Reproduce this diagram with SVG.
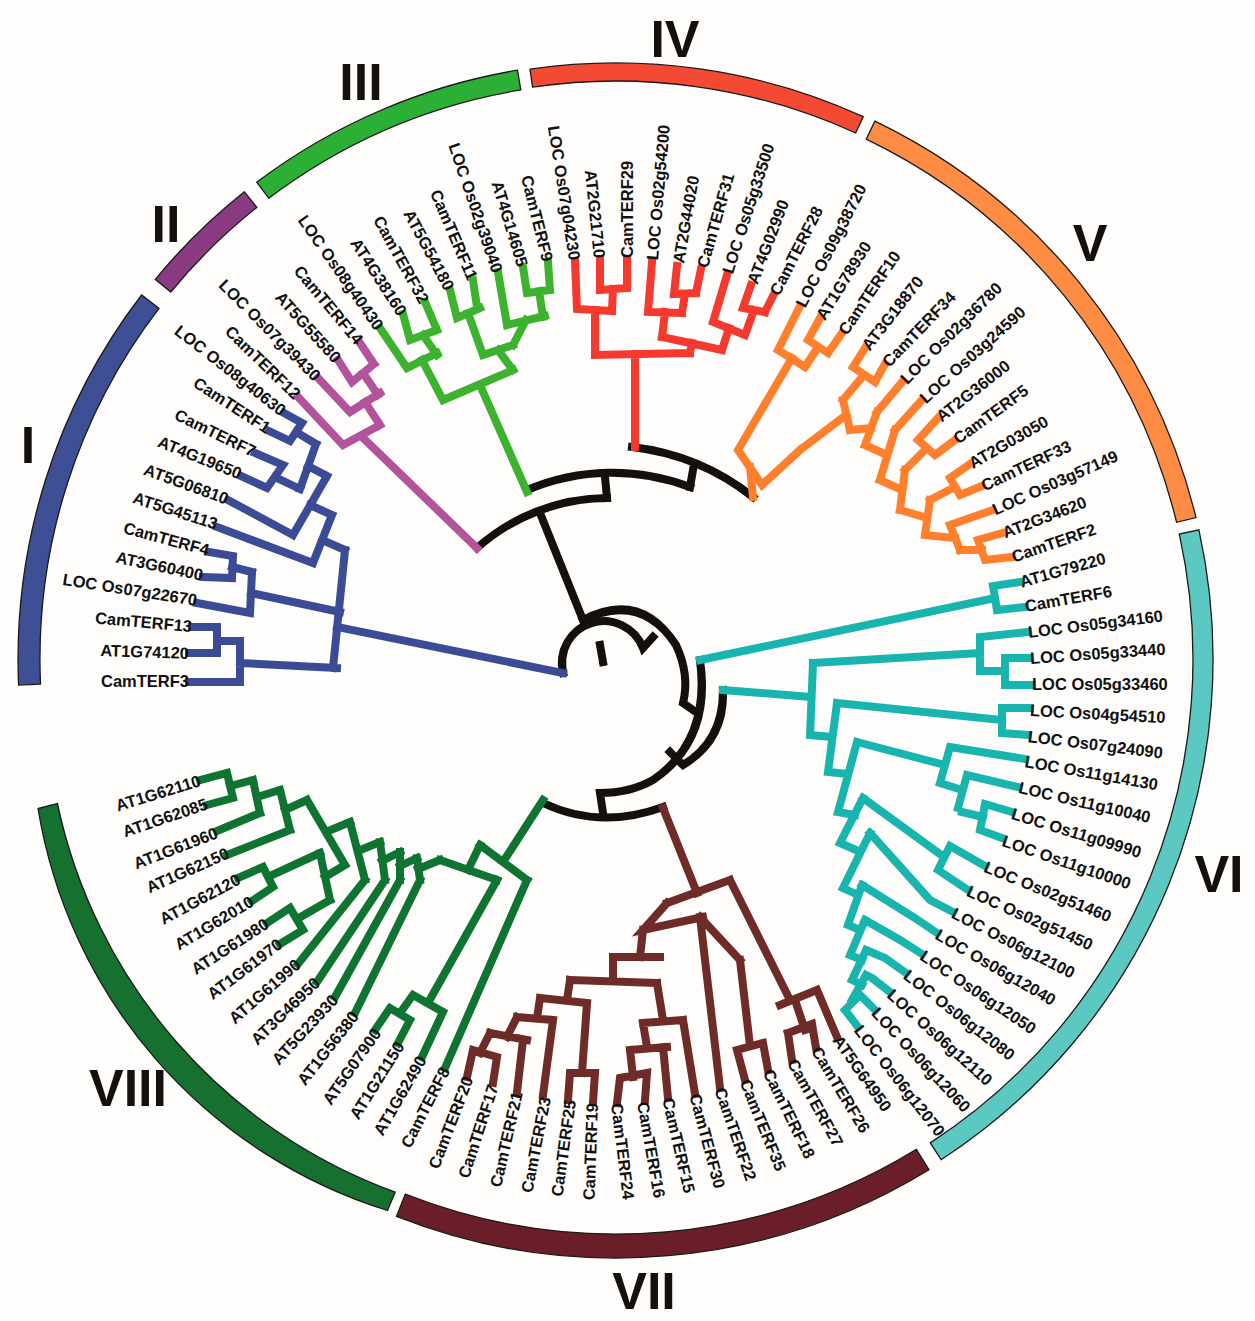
<svg xmlns="http://www.w3.org/2000/svg" width="1255" height="1321" viewBox="0 0 1255 1321">
<style>
.lf{font-family:"Liberation Sans",Arial,sans-serif;font-weight:bold;font-size:16.5px;fill:#111;dominant-baseline:central}
.e{text-anchor:end}
.gl{font-family:"Liberation Sans",Arial,sans-serif;font-weight:bold;font-size:52px;fill:#14100c;text-anchor:middle;dominant-baseline:central}
.br{fill:none;stroke-width:8;stroke-linejoin:miter;stroke-linecap:square}
.ring{stroke:#1a1a1a;stroke-width:1.3}
</style>
<rect width="1255" height="1321" fill="#fefdfb"/>
<g id="ring">
<path id="ring-I" class="ring" fill="#3e4f96" d="M18.6,685.1 A598,598 0 0 1 141.6,295 L159,308.4 A576,576 0 0 0 40.5,684.1 Z"/>
<path id="ring-II" class="ring" fill="#8a3a82" d="M155.3,279.3 A597,597 0 0 1 244.4,191.8 L256.8,207.4 A577,577 0 0 0 170.8,292 Z"/>
<path id="ring-III" class="ring" fill="#2caf35" d="M256.7,182.2 A597,597 0 0 1 517.5,70.2 L520.8,89.9 A577,577 0 0 0 268.7,198.2 Z"/>
<path id="ring-IV" class="ring" fill="#f44a34" d="M530,69.2 A596,596 0 0 1 863.2,116.7 L855.7,133 A578,578 0 0 0 532.6,87.1 Z"/>
<path id="ring-V" class="ring" fill="#ff8c45" d="M874.9,121.1 A597,597 0 0 1 1196,517.6 L1176.6,522.3 A577,577 0 0 0 866.2,139.1 Z"/>
<path id="ring-VI" class="ring" fill="#5cc8c2" d="M1198.9,529.8 A597,597 0 0 1 941.1,1159.7 L930.3,1142.9 A577,577 0 0 0 1179.3,534.1 Z"/>
<path id="ring-VII" class="ring" fill="#6a1f28" d="M929,1169.7 A599,599 0 0 1 396.5,1216.3 L405.3,1194 A575,575 0 0 0 916.4,1149.3 Z"/>
<path id="ring-VIII" class="ring" fill="#167030" d="M387.5,1210.5 A507,507 0 0 1 38,808.5 L57.4,803.5 A531,531 0 0 0 395.2,1192.1 Z"/>
</g>
<g id="group-labels">
<g id="label-I"><text class="gl" x="28" y="445">I</text></g>
<g id="label-II"><text class="gl" x="166" y="224">II</text></g>
<g id="label-III"><text class="gl" x="361" y="82">III</text></g>
<g id="label-IV"><text class="gl" x="675" y="39">IV</text></g>
<g id="label-V"><text class="gl" x="1090" y="243">V</text></g>
<g id="label-VI"><text class="gl" x="1219" y="874">VI</text></g>
<g id="label-VII"><text class="gl" x="644" y="1291">VII</text></g>
<g id="label-VIII"><text class="gl" x="128" y="1088">VIII</text></g>
</g>
<g id="connectors">
<g id="center" class="br" stroke="#14100c">
<path d="M632,447 A240,240 0 0 1 753,497"/>
<path d="M690,487 L693,470"/>
<path d="M527,490 A218,218 0 0 1 690,487"/>
<path d="M607,498 L605,477"/>
<path d="M477,548 A198,198 0 0 1 607,498"/>
<path d="M540,513 L583,620"/>
<path d="M583,620 Q640,590 676,645 Q690,675 683,703 L693,710"/>
<path d="M563,673 A42,42 0 0 1 643,648 L653,637"/>
<path d="M600,645 L603,662"/>
<path d="M700,660 Q712,740 653,780 Q630,793 600,793 L603,813"/>
<path d="M723,690 Q725,740 683,765 L670,752"/>
<path d="M543,803 Q600,830 663,807"/>
</g>
<g id="clade-I" class="br" stroke="#3c4b95">
<path d="M189,682H240V641 M189,653H217 M192,627H217V653 M217,641H240 M240,663L337,668 M209,552L233,556L232,578L203,577 M232,567L252,572 M197,603L250,613L252,572 M251,593L340,612 M284,413L302,423L290,441L269,431 M296,432L316,444 M255,453L283,465L267,488L241,476 M275,477L300,489 M316,444L300,489 M308,466L327,476 M228,500L293,535 M327,476L293,535 M310,505L332,515 M217,527L313,563 M332,515L313,563 M322,540L345,550 M345,550L333,668 M337,627L563,673"/>
</g>
<g id="clade-II" class="br" stroke="#b3539b">
<path d="M360,343L374,364 M338,360L352,382L374,364 M363,373L378,395 M318,378L350,412L380,393 M365,402L380,425 M298,397L343,445L380,425 M362,437L477,548"/>
</g>
<g id="clade-III" class="br" stroke="#3db22f">
<path d="M548,262L550,290 M523,267L527,293L550,290 M539,291L543,317 M498,272L507,325L545,316 M526,320L513,345 M473,280L477,307 M450,290L457,318L480,308 M468,313L483,355L513,345 M498,350L513,370 M425,302L437,330 M403,314L410,340L437,330 M423,335L437,355 M380,328L407,368L437,353 M422,360L443,400L513,370 M480,385L527,492"/>
</g>
<g id="clade-IV" class="br" stroke="#f43a2e">
<path d="M575,262L577,309L612,311 M600,260L600,290L627,288 M627,260V288 M613,289L612,311 M595,310L595,355 M652,262L648,312L682,313 M677,266L674,294L696,293 M701,269L696,293 M685,294L682,313 M665,312L662,337 M727,275L713,322L745,335 M751,285L743,308L765,312 M773,296L765,312 M754,310L745,335 M729,328L722,350 M662,337L722,350 M692,343L690,353 M595,355L690,353 M635,354L635,447"/>
</g>
<g id="clade-V" class="br" stroke="#ff7f2c">
<path d="M820,318L808,340L828,353L842,333 M818,347L805,367 M800,306L778,350L805,367 M792,358L738,450L762,485L800,450 M750,467L753,497 M865,348L853,367L875,382L885,364 M864,375L843,400 M903,381L877,412 M922,400L895,430 M938,418L918,440L935,455L955,440 M927,448L905,470 M970,464L950,478L960,495L982,486 M955,487L930,500 M993,510L950,525 M1003,533L978,540L985,560L1012,557 M982,550L960,550 M950,525L960,550 M955,538L925,535 M930,500L925,535 M927,518L900,510 M905,470L900,510 M902,490L880,480 M895,430L880,480 M887,455L865,445 M877,412L865,445 M871,428L850,430 M843,400L850,430 M846,415L800,450"/>
</g>
<g id="clade-VI" class="br" stroke="#18b4ae">
<path d="M1020,582L993,586L997,610L1025,607 M995,598L700,660 M1028,632L980,637L980,670 M1030,658L1005,658L1005,685L1032,685 M1005,671L980,671 M980,653L813,663 M723,690L811,697 M813,663L810,735L832,737 M1030,708L1002,708L1002,733L1028,735 M1002,720L837,703 M837,703L828,772L848,774 M1025,759L950,747L940,783 M1018,787L967,775L958,808 M1012,812L985,804L980,830L1002,838 M983,817L962,812 M945,765L857,742 M857,742L838,812L855,815 M940,783L962,790 M863,798L840,843L856,850 M985,866L950,846L938,870L968,890 M863,798L944,857 M870,833L843,888L858,895 M870,833L930,900L953,912 M862,885L848,925L860,930 M862,885L915,918L937,933 M865,920L850,955L862,960 M865,920L900,940L922,954 M866,950L852,980L862,985 M866,950L885,958L906,973 M866,975L852,1000 M866,975L872,978L890,992 M875,1010L860,995L845,1010L858,1027"/>
</g>
<g id="clade-VII" class="br" stroke="#6e2b27">
<path d="M663,808L697,893 M667,903L730,880 M730,880L790,1000 M780,1005L817,990L837,1037 M795,1000L805,1030 M788,1033L812,1024L816,1048 M788,1033L792,1060 M745,1080L737,1050L763,1043L768,1070 M750,1046L740,960 M740,960L700,917 M720,1088L700,917 M667,903L643,930L703,917 M643,930L640,957 M613,957L660,957 M467,1077L473,1050L497,1057L493,1083 M480,1053L490,1033 M517,1092L523,1040 M490,1033L527,1040 M507,1037L517,1017 M543,1095L553,1020 M517,1017L553,1020 M537,1018L540,998 M568,1100L570,1073L595,1073L593,1102 M582,1073L587,1003 M540,998L587,1003 M567,1000L570,980 M617,1103L620,1078L647,1073L645,1100 M633,1077L630,1050 M668,1098L663,1047 M630,1050L667,1047 M647,1047L643,1023 M695,1094L683,1020 M643,1023L683,1020 M663,1020L657,983 M570,980L657,983 M613,980L613,957"/>
</g>
<g id="clade-VIII" class="br" stroke="#0f7431">
<path d="M200,780L227,773L233,798L207,805 M230,786L253,780 M217,831L260,813 M253,780L260,813 M257,797L280,790 M227,855L290,830 M280,790L290,830 M285,810L307,800 M238,878L263,867L273,887L252,901 M268,877L320,853 M267,923L290,908L303,930L280,944 M297,919L330,900 M320,853L330,900 M325,877L345,865 M307,800L345,865 M326,832L350,822 M298,964L365,880 M317,982L385,880 M335,997L400,880 M355,1013L420,880 M350,822L365,880 M358,851L380,842 M380,842L385,880 M382,861L400,852 M400,852L400,880 M400,866L417,858 M417,858L420,880 M418,869L440,860 M375,1030L390,1008L410,1020L398,1043 M400,1013L413,995L443,1012L422,1057 M428,1003L497,880 M440,860L497,880 M468,870L480,845 M445,1068L527,880 M480,845L527,880 M503,862L543,800"/>
</g>
</g>
<g id="leaves">
<g id="leaf-CamTERF3"><text class="lf e" transform="translate(189,681) rotate(0)">CamTERF3</text></g>
<g id="leaf-AT1G74120"><text class="lf e" transform="translate(189,653) rotate(2)">AT1G74120</text></g>
<g id="leaf-CamTERF13"><text class="lf e" transform="translate(192,626) rotate(5)">CamTERF13</text></g>
<g id="leaf-LOC-Os07g22670"><text class="lf e" transform="translate(197,600) rotate(9)">LOC Os07g22670</text></g>
<g id="leaf-AT3G60400"><text class="lf e" transform="translate(203,575) rotate(12)">AT3G60400</text></g>
<g id="leaf-CamTERF4"><text class="lf e" transform="translate(209,550) rotate(15)">CamTERF4</text></g>
<g id="leaf-AT5G45113"><text class="lf e" transform="translate(217,524) rotate(18)">AT5G45113</text></g>
<g id="leaf-AT5G06810"><text class="lf e" transform="translate(228,499) rotate(20)">AT5G06810</text></g>
<g id="leaf-AT4G19650"><text class="lf e" transform="translate(241,474) rotate(22)">AT4G19650</text></g>
<g id="leaf-CamTERF7"><text class="lf e" transform="translate(255,452) rotate(26)">CamTERF7</text></g>
<g id="leaf-CamTERF1"><text class="lf e" transform="translate(269,429) rotate(33)">CamTERF1</text></g>
<g id="leaf-LOC-Os08g40630"><text class="lf e" transform="translate(284,412) rotate(38)">LOC Os08g40630</text></g>
<g id="leaf-CamTERF12"><text class="lf e" transform="translate(298,396) rotate(44)">CamTERF12</text></g>
<g id="leaf-LOC-Os07g39430"><text class="lf e" transform="translate(318,378) rotate(45)">LOC Os07g39430</text></g>
<g id="leaf-AT5G55580"><text class="lf e" transform="translate(338,360) rotate(48)">AT5G55580</text></g>
<g id="leaf-CamTERF14"><text class="lf e" transform="translate(360,342) rotate(50)">CamTERF14</text></g>
<g id="leaf-LOC-Os08g40430"><text class="lf e" transform="translate(380,328) rotate(55)">LOC Os08g40430</text></g>
<g id="leaf-AT4G38160"><text class="lf e" transform="translate(403,314) rotate(57)">AT4G38160</text></g>
<g id="leaf-CamTERF32"><text class="lf e" transform="translate(425,302) rotate(61)">CamTERF32</text></g>
<g id="leaf-AT5G54180"><text class="lf e" transform="translate(450,289) rotate(62)">AT5G54180</text></g>
<g id="leaf-CamTERF11"><text class="lf e" transform="translate(473,279) rotate(67)">CamTERF11</text></g>
<g id="leaf-LOC-Os02g39040"><text class="lf e" transform="translate(498,272) rotate(71)">LOC Os02g39040</text></g>
<g id="leaf-AT4G14605"><text class="lf e" transform="translate(523,266) rotate(73)">AT4G14605</text></g>
<g id="leaf-CamTERF9"><text class="lf e" transform="translate(548,261) rotate(76)">CamTERF9</text></g>
<g id="leaf-LOC-Os07g04230"><text class="lf e" transform="translate(575,260) rotate(81)">LOC Os07g04230</text></g>
<g id="leaf-AT2G21710"><text class="lf e" transform="translate(600,258) rotate(84)">AT2G21710</text></g>
<g id="leaf-CamTERF29"><text class="lf" transform="translate(627,258) rotate(-90)">CamTERF29</text></g>
<g id="leaf-LOC-Os02g54200"><text class="lf" transform="translate(652,260) rotate(-85)">LOC Os02g54200</text></g>
<g id="leaf-AT2G44020"><text class="lf" transform="translate(678,263) rotate(-80)">AT2G44020</text></g>
<g id="leaf-CamTERF31"><text class="lf" transform="translate(702,267) rotate(-74)">CamTERF31</text></g>
<g id="leaf-LOC-Os05g33500"><text class="lf" transform="translate(727,273) rotate(-72)">LOC Os05g33500</text></g>
<g id="leaf-AT4G02990"><text class="lf" transform="translate(752,283) rotate(-69)">AT4G02990</text></g>
<g id="leaf-CamTERF28"><text class="lf" transform="translate(774,294) rotate(-63)">CamTERF28</text></g>
<g id="leaf-LOC-Os09g38720"><text class="lf" transform="translate(800,306) rotate(-63)">LOC Os09g38720</text></g>
<g id="leaf-AT1G78930"><text class="lf" transform="translate(820,318) rotate(-58)">AT1G78930</text></g>
<g id="leaf-CamTERF10"><text class="lf" transform="translate(842,333) rotate(-56)">CamTERF10</text></g>
<g id="leaf-AT3G18870"><text class="lf" transform="translate(865,348) rotate(-52)">AT3G18870</text></g>
<g id="leaf-CamTERF34"><text class="lf" transform="translate(885,364) rotate(-46)">CamTERF34</text></g>
<g id="leaf-LOC-Os02g36780"><text class="lf" transform="translate(903,381) rotate(-45)">LOC Os02g36780</text></g>
<g id="leaf-LOC-Os03g24590"><text class="lf" transform="translate(922,400) rotate(-42)">LOC Os03g24590</text></g>
<g id="leaf-AT2G36000"><text class="lf" transform="translate(938,418) rotate(-38)">AT2G36000</text></g>
<g id="leaf-CamTERF5"><text class="lf" transform="translate(955,440) rotate(-36)">CamTERF5</text></g>
<g id="leaf-AT2G03050"><text class="lf" transform="translate(970,464) rotate(-30)">AT2G03050</text></g>
<g id="leaf-CamTERF33"><text class="lf" transform="translate(982,486) rotate(-25)">CamTERF33</text></g>
<g id="leaf-LOC-Os03g57149"><text class="lf" transform="translate(993,510) rotate(-24)">LOC Os03g57149</text></g>
<g id="leaf-AT2G34620"><text class="lf" transform="translate(1003,533) rotate(-21)">AT2G34620</text></g>
<g id="leaf-CamTERF2"><text class="lf" transform="translate(1012,557) rotate(-19)">CamTERF2</text></g>
<g id="leaf-AT1G79220"><text class="lf" transform="translate(1020,582) rotate(-16)">AT1G79220</text></g>
<g id="leaf-CamTERF6"><text class="lf" transform="translate(1025,606) rotate(-10)">CamTERF6</text></g>
<g id="leaf-LOC-Os05g34160"><text class="lf" transform="translate(1028,632) rotate(-7)">LOC Os05g34160</text></g>
<g id="leaf-LOC-Os05g33440"><text class="lf" transform="translate(1030,658) rotate(-4)">LOC Os05g33440</text></g>
<g id="leaf-LOC-Os05g33460"><text class="lf" transform="translate(1032,684) rotate(0)">LOC Os05g33460</text></g>
<g id="leaf-LOC-Os04g54510"><text class="lf" transform="translate(1030,710) rotate(3)">LOC Os04g54510</text></g>
<g id="leaf-LOC-Os07g24090"><text class="lf" transform="translate(1028,736) rotate(7)">LOC Os07g24090</text></g>
<g id="leaf-LOC-Os11g14130"><text class="lf" transform="translate(1025,761) rotate(10)">LOC Os11g14130</text></g>
<g id="leaf-LOC-Os11g10040"><text class="lf" transform="translate(1019,787) rotate(13)">LOC Os11g10040</text></g>
<g id="leaf-LOC-Os11g09990"><text class="lf" transform="translate(1012,813) rotate(17)">LOC Os11g09990</text></g>
<g id="leaf-LOC-Os11g10000"><text class="lf" transform="translate(1003,840) rotate(19)">LOC Os11g10000</text></g>
<g id="leaf-LOC-Os02g51460"><text class="lf" transform="translate(985,866) rotate(22)">LOC Os02g51460</text></g>
<g id="leaf-LOC-Os02g51450"><text class="lf" transform="translate(968,890) rotate(24)">LOC Os02g51450</text></g>
<g id="leaf-LOC-Os06g12100"><text class="lf" transform="translate(953,912) rotate(27)">LOC Os06g12100</text></g>
<g id="leaf-LOC-Os06g12040"><text class="lf" transform="translate(937,933) rotate(30)">LOC Os06g12040</text></g>
<g id="leaf-LOC-Os06g12050"><text class="lf" transform="translate(922,954) rotate(34)">LOC Os06g12050</text></g>
<g id="leaf-LOC-Os06g12080"><text class="lf" transform="translate(906,973) rotate(38)">LOC Os06g12080</text></g>
<g id="leaf-LOC-Os06g12110"><text class="lf" transform="translate(890,992) rotate(42)">LOC Os06g12110</text></g>
<g id="leaf-LOC-Os06g12060"><text class="lf" transform="translate(875,1010) rotate(47)">LOC Os06g12060</text></g>
<g id="leaf-LOC-Os06g12070"><text class="lf" transform="translate(858,1027) rotate(52)">LOC Os06g12070</text></g>
<g id="leaf-AT5G64950"><text class="lf" transform="translate(837,1037) rotate(55)">AT5G64950</text></g>
<g id="leaf-CamTERF26"><text class="lf" transform="translate(816,1048) rotate(59)">CamTERF26</text></g>
<g id="leaf-CamTERF27"><text class="lf" transform="translate(792,1060) rotate(61)">CamTERF27</text></g>
<g id="leaf-CamTERF18"><text class="lf" transform="translate(768,1070) rotate(64)">CamTERF18</text></g>
<g id="leaf-CamTERF35"><text class="lf" transform="translate(745,1080) rotate(68)">CamTERF35</text></g>
<g id="leaf-CamTERF22"><text class="lf" transform="translate(720,1088) rotate(71)">CamTERF22</text></g>
<g id="leaf-CamTERF30"><text class="lf" transform="translate(695,1094) rotate(75)">CamTERF30</text></g>
<g id="leaf-CamTERF15"><text class="lf" transform="translate(668,1098) rotate(77)">CamTERF15</text></g>
<g id="leaf-CamTERF16"><text class="lf" transform="translate(643,1102) rotate(80)">CamTERF16</text></g>
<g id="leaf-CamTERF24"><text class="lf" transform="translate(617,1103) rotate(83)">CamTERF24</text></g>
<g id="leaf-CamTERF19"><text class="lf e" transform="translate(592,1103) rotate(-88)">CamTERF19</text></g>
<g id="leaf-CamTERF25"><text class="lf e" transform="translate(570,1100) rotate(-82)">CamTERF25</text></g>
<g id="leaf-CamTERF23"><text class="lf e" transform="translate(545,1097) rotate(-79)">CamTERF23</text></g>
<g id="leaf-CamTERF21"><text class="lf e" transform="translate(517,1092) rotate(-77)">CamTERF21</text></g>
<g id="leaf-CamTERF17"><text class="lf e" transform="translate(493,1085) rotate(-72)">CamTERF17</text></g>
<g id="leaf-CamTERF20"><text class="lf e" transform="translate(468,1077) rotate(-69)">CamTERF20</text></g>
<g id="leaf-CamTERF8"><text class="lf e" transform="translate(445,1068) rotate(-63)">CamTERF8</text></g>
<g id="leaf-AT1G62490"><text class="lf e" transform="translate(422,1057) rotate(-60)">AT1G62490</text></g>
<g id="leaf-AT1G21150"><text class="lf e" transform="translate(400,1043) rotate(-58)">AT1G21150</text></g>
<g id="leaf-AT5G07900"><text class="lf e" transform="translate(377,1030) rotate(-55)">AT5G07900</text></g>
<g id="leaf-AT1G56380"><text class="lf e" transform="translate(355,1013) rotate(-52)">AT1G56380</text></g>
<g id="leaf-AT5G23930"><text class="lf e" transform="translate(335,997) rotate(-47)">AT5G23930</text></g>
<g id="leaf-AT3G46950"><text class="lf e" transform="translate(317,980) rotate(-44)">AT3G46950</text></g>
<g id="leaf-AT1G61990"><text class="lf e" transform="translate(298,962) rotate(-41)">AT1G61990</text></g>
<g id="leaf-AT1G61970"><text class="lf e" transform="translate(280,942) rotate(-37)">AT1G61970</text></g>
<g id="leaf-AT1G61980"><text class="lf e" transform="translate(267,922) rotate(-33)">AT1G61980</text></g>
<g id="leaf-AT1G62010"><text class="lf e" transform="translate(252,900) rotate(-31)">AT1G62010</text></g>
<g id="leaf-AT1G62120"><text class="lf e" transform="translate(239,878) rotate(-28)">AT1G62120</text></g>
<g id="leaf-AT1G62150"><text class="lf e" transform="translate(228,852) rotate(-24)">AT1G62150</text></g>
<g id="leaf-AT1G61960"><text class="lf e" transform="translate(217,832) rotate(-21)">AT1G61960</text></g>
<g id="leaf-AT1G62085"><text class="lf e" transform="translate(207,803) rotate(-19)">AT1G62085</text></g>
<g id="leaf-AT1G62110"><text class="lf e" transform="translate(200,780) rotate(-17)">AT1G62110</text></g>
</g>
</svg>
